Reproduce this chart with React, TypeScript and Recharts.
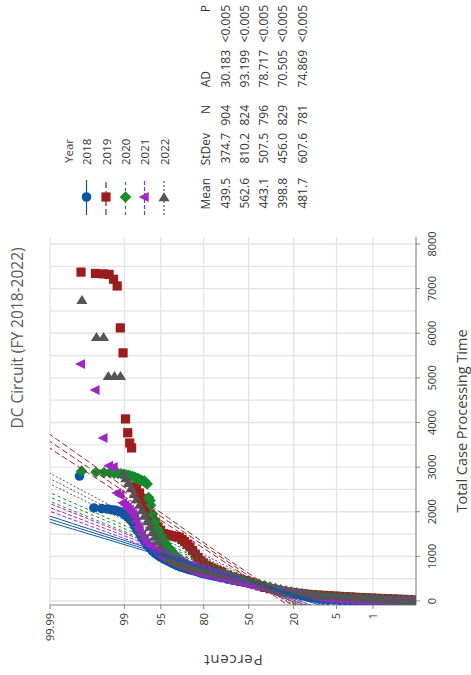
import React from 'react';
import { ScatterChart, Scatter, XAxis, YAxis, CartesianGrid } from 'recharts';

// ---------- data ----------
const years = ['2018', '2019', '2020', '2021', '2022'];
const seriesColors = ['#0a55a8', '#9c1c1c', '#17892f', '#a024c8', '#555555'];
const lineDashes = ['', '6 3', '3 3', '4 2', '2 2'];
const markerKinds = ['circle', 'square', 'diamond', 'triUp', 'triRight'];

const meanValues = [439.5, 562.6, 443.1, 398.8, 481.7];
const stdevValues = [374.7, 810.2, 507.5, 456.0, 607.6];
const countValues = [904, 824, 796, 829, 781];
const adValues = [30.183, 93.199, 78.717, 70.505, 74.869];
const pValues = ['<0.005', '<0.005', '<0.005', '<0.005', '<0.005'];

const percentTicks = [99.99, 99, 95, 80, 50, 20, 5, 1];
const percentTickLabels = ['99.99', '99', '95', '80', '50', '20', '5', '1'];
const timeTicks = [0, 1000, 2000, 3000, 4000, 5000, 6000, 7000, 8000];
const timeGridValues = [0, 500, 1000, 1500, 2000, 2500, 3000, 3500, 4000, 4500, 5000, 5500, 6000, 6500, 7000, 7500, 8000];
const timeDomain = [-90, 8157];
const percentDomain = [0.087, 99.99];

// plotting positions (percent) of the dense part of each year's sample
const bodyPct = [0.097, 0.135, 0.187, 0.256, 0.347, 0.466, 0.621, 0.82, 1.07, 1.39, 1.79, 2.28, 2.87, 3.59, 4.46, 5.48, 6.68, 8.08, 9.68, 11.51, 13.57, 15.87, 18.41, 21.19, 24.2, 27.43, 30.85, 34.46, 38.21, 42.07, 46.02, 50, 53.98, 57.93, 61.79, 65.54, 69.15, 72.57, 75.8, 78.81, 81.59, 84.13, 86.43, 88.49, 90.32, 91.92, 93.32, 94.52, 95.54, 96.41, 97.13, 97.72];

const body2018 = [0, 0, 0, 1, 1, 1, 2, 2, 3, 4, 5, 7, 9, 12, 16, 22, 30, 40, 55, 72, 92, 115, 140, 165, 190, 220, 250, 280, 310, 340, 370, 400, 420, 440, 465, 490, 520, 550, 575, 600, 630, 670, 700, 735, 775, 830, 890, 950, 1020, 1120, 1250, 1420];
const body2019 = [20, 28, 35, 40, 45, 50, 55, 60, 65, 70, 76, 82, 90, 96, 103, 110, 117, 125, 132, 140, 150, 162, 175, 190, 205, 225, 250, 275, 305, 340, 380, 420, 460, 500, 540, 580, 640, 690, 740, 800, 900, 1050, 1210, 1330, 1430, 1450, 1480, 1510, 1660, 1870, 2050, 2300];
const body2020 = [5, 10, 14, 18, 22, 27, 32, 37, 42, 47, 52, 58, 64, 70, 78, 85, 95, 105, 118, 130, 145, 160, 180, 200, 225, 250, 280, 310, 340, 370, 400, 430, 460, 490, 520, 550, 580, 610, 640, 670, 700, 740, 780, 850, 940, 1060, 1200, 1370, 1600, 1950, 2620, 2700];
const body2021 = [0, 1, 2, 2, 3, 4, 5, 6, 8, 10, 12, 15, 20, 25, 32, 40, 50, 62, 76, 92, 110, 130, 150, 170, 195, 220, 245, 270, 295, 318, 340, 365, 395, 425, 455, 485, 515, 545, 575, 600, 625, 660, 695, 750, 790, 845, 910, 980, 1080, 1170, 1310, 1490];
const body2022 = [10, 15, 22, 30, 38, 45, 52, 58, 67, 74, 80, 90, 95, 100, 108, 112, 118, 125, 132, 139, 152, 168, 184, 202, 224, 246, 278, 302, 336, 381, 426, 470, 493, 520, 549, 583, 605, 638, 665, 688, 717, 740, 762, 818, 862, 907, 975, 1143, 1345, 1547, 1793, 2040];

// extra plotting positions in the steep upper part of the body
const midPct = [70.88, 74.22, 77.34, 80.23, 82.89, 85.31, 87.49, 89.44, 91.15, 92.65, 93.94, 95.05, 95.99, 96.78, 97.44];
const mid2018 = [535, 562, 588, 615, 650, 685, 718, 755, 800, 860, 920, 985, 1070, 1185, 1335];
const mid2019 = [665, 715, 770, 850, 975, 1130, 1270, 1380, 1440, 1465, 1495, 1585, 1765, 1960, 2175];
const mid2020 = [595, 625, 655, 685, 720, 760, 815, 895, 1000, 1130, 1285, 1485, 1775, 2250, 2670];
const mid2021 = [530, 560, 588, 612, 642, 678, 722, 770, 818, 878, 945, 1030, 1125, 1240, 1400];
const mid2022 = [620, 652, 676, 702, 728, 751, 790, 840, 885, 940, 1060, 1245, 1445, 1670, 1915];

// upper tails
const tailPct2018 = [97.9, 98.15, 98.26, 98.37, 98.485, 98.596, 98.706, 98.817, 98.927, 99.038, 99.149, 99.259, 99.37, 99.48, 99.591, 99.702, 99.812, 99.923];
const tailTime2018 = [1500, 1580, 1640, 1700, 1760, 1800, 1840, 1880, 1920, 1960, 1990, 2010, 2030, 2045, 2060, 2070, 2085, 2800];
const tailPct2019 = [97.95, 98.216, 98.338, 98.459, 98.58, 98.702, 98.823, 98.944, 99.066, 99.187, 99.309, 99.43, 99.551, 99.672, 99.794, 99.915];
const tailTime2019 = [2420, 2500, 2530, 2560, 3430, 3540, 3770, 4080, 5560, 6120, 7060, 7210, 7320, 7330, 7340, 7370];
const tailPct2020 = [96.7, 96.95, 97.45, 97.9, 98.029, 98.154, 98.28, 98.405, 98.531, 98.656, 98.782, 98.907, 99.033, 99.159, 99.284, 99.41, 99.535, 99.661, 99.787, 99.912];
const tailTime2020 = [2150, 2320, 2690, 2715, 2730, 2745, 2760, 2780, 2790, 2800, 2815, 2830, 2840, 2850, 2860, 2865, 2875, 2880, 2885, 2910];
const tailPct2021 = [97.95, 98.1, 98.23, 98.35, 98.47, 98.59, 98.71, 98.83, 98.95, 99.07, 99.19, 99.31, 99.43, 99.554, 99.674, 99.795, 99.916];
const tailTime2021 = [1580, 1660, 1780, 1880, 1950, 2000, 2050, 2100, 2150, 2200, 2370, 2420, 3000, 3030, 3650, 4730, 5310];
const tailPct2022 = [97.95, 98.21, 98.4, 98.61, 98.78, 98.93, 99.06, 99.18, 99.4, 99.57, 99.67, 99.78, 99.91];
const tailTime2022 = [2160, 2287, 2400, 2533, 2650, 2757, 2850, 5045, 5045, 5045, 5920, 5920, 6750];

const bodyTimes = [body2018, body2019, body2020, body2021, body2022];
const midTimes = [mid2018, mid2019, mid2020, mid2021, mid2022];
const tailPcts = [tailPct2018, tailPct2019, tailPct2020, tailPct2021, tailPct2022];
const tailTimes = [tailTime2018, tailTime2019, tailTime2020, tailTime2021, tailTime2022];

// ---------- probability scale helper ----------
function normInv(p: number): number {
  const a = [-39.69683028665376, 220.9460984245205, -275.9285104469687, 138.357751867269, -30.66479806614716, 2.506628277459239];
  const b = [-54.47609879822406, 161.5858368580409, -155.6989798598866, 66.80131188771972, -13.28068155288572];
  const c = [-0.007784894002430293, -0.3223964580411365, -2.400758277161838, -2.549732539343734, 4.374664141464968, 2.938163982698783];
  const d = [0.007784695709041462, 0.3224671290700398, 2.445134137142996, 3.754408661907416];
  const pl = 0.02425;
  if (p < pl) {
    const q = Math.sqrt(-2 * Math.log(p));
    return (((((c[0] * q + c[1]) * q + c[2]) * q + c[3]) * q + c[4]) * q + c[5]) / ((((d[0] * q + d[1]) * q + d[2]) * q + d[3]) * q + 1);
  }
  if (p <= 1 - pl) {
    const q = p - 0.5;
    const r = q * q;
    return ((((((a[0] * r + a[1]) * r + a[2]) * r + a[3]) * r + a[4]) * r + a[5]) * q) / (((((b[0] * r + b[1]) * r + b[2]) * r + b[3]) * r + b[4]) * r + 1);
  }
  const q = Math.sqrt(-2 * Math.log(1 - p));
  return -(((((c[0] * q + c[1]) * q + c[2]) * q + c[3]) * q + c[4]) * q + c[5]) / ((((d[0] * q + d[1]) * q + d[2]) * q + d[3]) * q + 1);
}
const pz = (pct: number) => normInv(pct / 100);

const zDomain = [pz(percentDomain[0]), pz(percentDomain[1])];
const zTicks = percentTicks.map(pz);

const seriesData = years.map((_, i) => [
  ...bodyPct.map((p, k) => ({ z: pz(p), t: bodyTimes[i][k] })),
  ...midPct.map((p, k) => ({ z: pz(p), t: midTimes[i][k] })),
  ...tailPcts[i].map((p, k) => ({ z: pz(p), t: tailTimes[i][k] })),
]);

// fitted normal line with 95% confidence bounds, from the mean / stdev / N shown in the table
const lineZ: number[] = [];
for (let z = -3.3; z <= 3.9; z += 0.1) lineZ.push(z);
const fitLines = years.map((_, i) => {
  const m = meanValues[i];
  const s = stdevValues[i];
  const n = countValues[i];
  return [-1, 0, 1].map((k) =>
    lineZ.map((z) => ({ z, t: m + s * z + k * 1.96 * s * Math.sqrt(1 / n + (z * z) / (2 * n)) }))
  );
});

// ---------- markers ----------
function Marker({ kind, cx, cy, color }: { kind: string; cx: number; cy: number; color: string }) {
  if (cx == null || cy == null || isNaN(cx) || isNaN(cy)) return <g />;
  switch (kind) {
    case 'circle':
      return <circle cx={cx} cy={cy} r={4.8} fill={color} />;
    case 'square':
      return <rect x={cx - 4.6} y={cy - 4.6} width={9.2} height={9.2} fill={color} />;
    case 'diamond':
      return <path d={`M${cx},${cy - 5.8}L${cx + 5.8},${cy}L${cx},${cy + 5.8}L${cx - 5.8},${cy}Z`} fill={color} />;
    case 'triUp':
      return <path d={`M${cx},${cy - 5.8}L${cx + 5},${cy + 4.2}L${cx - 5},${cy + 4.2}Z`} fill={color} />;
    default:
      return <path d={`M${cx + 4.8},${cy}L${cx - 4.2},${cy - 5.6}L${cx - 4.2},${cy + 5.6}Z`} fill={color} />;
  }
}

const FONT = '"Open Sans", "Noto Sans", sans-serif';
const AXIS_COLOR = '#858585';

// vertical grid lines every 500 time units, placed with the x axis' own linear mapping
const gridGenerator = ({ xAxis, offset }: any) => {
  const sc = xAxis && xAxis.scale;
  if (typeof sc === 'function') return timeGridValues.map((v) => sc(v));
  if (sc && typeof sc.map === 'function') return timeGridValues.map((v) => sc.map(v));
  return timeGridValues.map(
    (v) => offset.left + ((v - timeDomain[0]) / (timeDomain[1] - timeDomain[0])) * offset.width
  );
};

export default function App() {
  const legendRows = [86.5, 106, 125.5, 144.5, 164];
  const statRows = [225, 244.5, 263.5, 282.5, 302];
  return (
    <div style={{ position: 'absolute', left: 0, top: 0, width: 471, height: 675, overflow: 'hidden', background: '#fff' }}>
      <div
        style={{
          position: 'absolute',
          left: 0,
          top: 0,
          width: 675,
          height: 471,
          transformOrigin: '0 0',
          transform: 'translate(0px, 675px) rotate(-90deg)',
          fontFamily: FONT,
        }}
      >
        <ScatterChart width={675} height={471} margin={{ top: 50, right: 237, bottom: 0, left: 0 }}>
          <CartesianGrid stroke="#e3e3e3" strokeWidth={1.3} verticalCoordinatesGenerator={gridGenerator} />
          <XAxis
            dataKey="t"
            type="number"
            domain={timeDomain}
            ticks={timeTicks}
            interval={0}
            allowDataOverflow
            height={55}
            tickSize={4}
            tickMargin={8}
            stroke={AXIS_COLOR}
            tick={{ fontSize: 11, fill: '#333', fontFamily: FONT }}
          />
          <XAxis xAxisId="top" orientation="top" type="number" domain={timeDomain} allowDataOverflow height={0} tick={false} tickLine={false} stroke={AXIS_COLOR} />
          <YAxis
            dataKey="z"
            type="number"
            domain={zDomain}
            ticks={zTicks}
            interval={0}
            allowDataOverflow
            width={70}
            tickSize={4}
            tickMargin={4}
            stroke={AXIS_COLOR}
            tickFormatter={(v: number, i: number) => percentTickLabels[i]}
            tick={{ fontSize: 11, fill: '#333', fontFamily: FONT }}
          />
          <YAxis yAxisId="right" orientation="right" type="number" domain={zDomain} allowDataOverflow width={0} tick={false} tickLine={false} stroke={AXIS_COLOR} />
          {seriesData.map((data, i) => (
            <Scatter
              key={'pts' + i}
              name={years[i]}
              data={data}
              fill={seriesColors[i]}
              isAnimationActive={false}
              shape={(props: any) => <Marker kind={markerKinds[i]} cx={props.cx} cy={props.cy} color={seriesColors[i]} />}
            />
          ))}
          {fitLines.flatMap((lines, i) =>
            lines.map((data, j) => (
              <Scatter
                key={'fit' + i + '-' + j}
                data={data}
                isAnimationActive={false}
                line={{ stroke: seriesColors[i], strokeWidth: 1, strokeDasharray: lineDashes[i] || undefined, fill: 'none' }}
                lineType="joint"
                shape={() => <g />}
              />
            ))
          )}
        </ScatterChart>
        <svg width={675} height={471} style={{ position: 'absolute', left: 0, top: 0, pointerEvents: 'none' }} fontFamily={FONT}>
          <text x={337} y={17} textAnchor="middle" dominantBaseline="central" fontSize={15.5} fill="#5a5a5a">
            DC Circuit (FY 2018-2022)
          </text>
          <text transform="translate(14,233) rotate(-90)" textAnchor="middle" dominantBaseline="central" fontSize={15} letterSpacing={0.8} fill="#404040">
            Percent
          </text>
          <text x={254} y={461} textAnchor="middle" dominantBaseline="central" fontSize={14.5} fill="#404040">
            Total Case Processing Time
          </text>
          <text x={512} y={68} dominantBaseline="central" fontSize={11.5} fill="#404040">
            Year
          </text>
          {years.map((y, i) => (
            <g key={'lg' + i}>
              <line x1={460} x2={495} y1={legendRows[i]} y2={legendRows[i]} stroke={seriesColors[i]} strokeWidth={1.2} strokeDasharray={lineDashes[i] || undefined} />
              <Marker kind={markerKinds[i]} cx={478} cy={legendRows[i]} color={seriesColors[i]} />
              <text x={510} y={legendRows[i]} dominantBaseline="central" fontSize={11.5} fill="#333">
                {y}
              </text>
            </g>
          ))}
          {[
            ['Mean', 497],
            ['StDev', 542],
            ['N', 570],
            ['AD', 604],
            ['P', 670],
          ].map(([label, x]) => (
            <text key={'h' + label} x={x as number} y={205} textAnchor="end" dominantBaseline="central" fontSize={12} fill="#333">
              {label}
            </text>
          ))}
          {years.map((_, i) => (
            <g key={'st' + i} fontSize={12} fill="#333">
              <text x={497} y={statRows[i]} textAnchor="end" dominantBaseline="central">{meanValues[i].toFixed(1)}</text>
              <text x={542} y={statRows[i]} textAnchor="end" dominantBaseline="central">{stdevValues[i].toFixed(1)}</text>
              <text x={570} y={statRows[i]} textAnchor="end" dominantBaseline="central">{countValues[i]}</text>
              <text x={625} y={statRows[i]} textAnchor="end" dominantBaseline="central">{adValues[i].toFixed(3)}</text>
              <text x={670} y={statRows[i]} textAnchor="end" dominantBaseline="central">{pValues[i]}</text>
            </g>
          ))}
        </svg>
      </div>
    </div>
  );
}
